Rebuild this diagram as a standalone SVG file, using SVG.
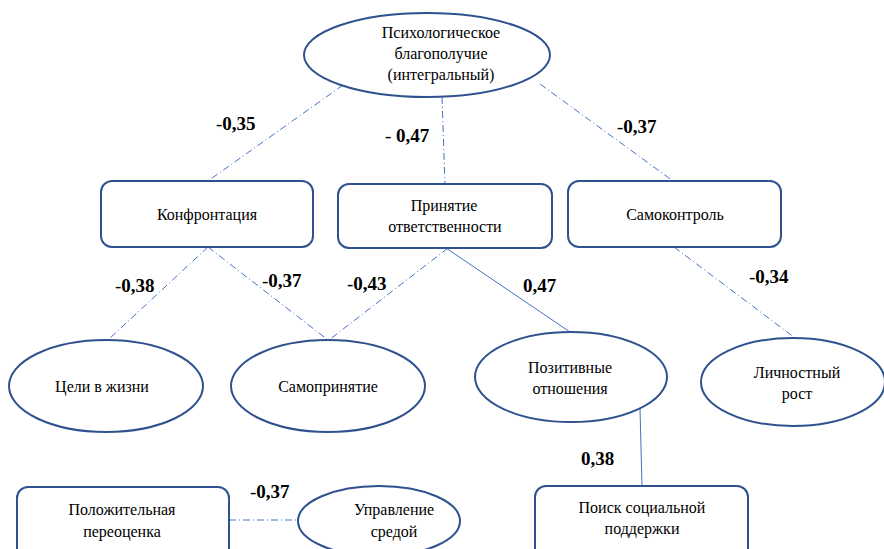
<svg xmlns="http://www.w3.org/2000/svg" width="884" height="549" viewBox="0 0 884 549">
<style>
.n{fill:#fff;stroke:#2F528F;stroke-width:2}
.c{stroke:#4472C4;stroke-width:1;fill:none}
.d{stroke-dasharray:7 3 1 3}
.t{font-size:16px;fill:#000;text-anchor:middle}
.l{font-size:19px;font-weight:bold;fill:#000}
.h{font-weight:normal}
</style>
<rect width="884" height="549" fill="#fff"/>
<g id="connectors">
<line class="c d" x1="343" y1="85" x2="208" y2="181"/>
<line class="c d" x1="442" y1="97" x2="445" y2="184"/>
<line class="c d" x1="540" y1="84" x2="673" y2="181"/>
<line class="c d" x1="208" y1="247" x2="108" y2="340"/>
<line class="c d" x1="208" y1="247" x2="328" y2="340"/>
<line class="c d" x1="448" y1="248" x2="329" y2="340"/>
<line class="c" x1="446" y1="248" x2="570" y2="332"/>
<line class="c d" x1="674" y1="247" x2="795" y2="338"/>
<line class="c" x1="640" y1="409" x2="642" y2="486"/>
<line class="c d" x1="229" y1="520" x2="298" y2="520"/>
</g>
<g font-family="Liberation Serif, DejaVu Serif, serif">
<g id="labels">
<text class="l" x="216" y="130"><tspan class="h">-</tspan>0,35</text>
<text class="l" x="385" y="142"><tspan class="h">- </tspan>0,47</text>
<text class="l" x="617" y="133"><tspan class="h">-</tspan>0,37</text>
<text class="l" x="115" y="292"><tspan class="h">-</tspan>0,38</text>
<text class="l" x="262" y="287"><tspan class="h">-</tspan>0,37</text>
<text class="l" x="347" y="290"><tspan class="h">-</tspan>0,43</text>
<text class="l" x="523" y="292">0,47</text>
<text class="l" x="749" y="283"><tspan class="h">-</tspan>0,34</text>
<text class="l" x="581" y="465">0,38</text>
<text class="l" x="250" y="498"><tspan class="h">-</tspan>0,37</text>
</g>
<g id="psych">
<ellipse class="n" cx="427" cy="55" rx="123" ry="42"/>
<text class="t" x="441" y="38">Психологическое</text>
<text class="t" x="441" y="59">благополучие</text>
<text class="t" x="441" y="80">(интегральный)</text>
</g>
<g id="konfr">
<rect class="n" x="101" y="181" width="212" height="66" rx="11"/>
<text class="t" x="207" y="220">Конфронтация</text>
</g>
<g id="prin">
<rect class="n" x="338" y="184" width="214" height="64" rx="11"/>
<text class="t" x="444" y="211">Принятие</text>
<text class="t" x="445" y="232">ответственности</text>
</g>
<g id="samokontrol">
<rect class="n" x="568" y="181" width="213" height="66" rx="11"/>
<text class="t" x="675" y="220">Самоконтроль</text>
</g>
<g id="celi">
<ellipse class="n" cx="106" cy="386" rx="97" ry="46"/>
<text class="t" x="102" y="392">Цели в жизни</text>
</g>
<g id="samoprin">
<ellipse class="n" cx="328" cy="386" rx="97" ry="46"/>
<text class="t" x="328" y="392">Самопринятие</text>
</g>
<g id="pozit">
<ellipse class="n" cx="571" cy="377" rx="96" ry="45"/>
<text class="t" x="570" y="373">Позитивные</text>
<text class="t" x="570" y="394">отношения</text>
</g>
<g id="lichn">
<ellipse class="n" cx="793" cy="382" rx="92" ry="44"/>
<text class="t" x="797" y="378">Личностный</text>
<text class="t" x="797" y="399">рост</text>
</g>
<g id="poisk">
<rect class="n" x="535" y="486" width="213" height="75" rx="11"/>
<text class="t" x="642" y="513">Поиск социальной</text>
<text class="t" x="642" y="534">поддержки</text>
</g>
<g id="polozh">
<rect class="n" x="17" y="487" width="212" height="75" rx="11"/>
<text class="t" x="122" y="515">Положительная</text>
<text class="t" x="122" y="537">переоценка</text>
</g>
<g id="uprav">
<ellipse class="n" cx="379" cy="521" rx="81" ry="35"/>
<text class="t" x="394" y="515">Управление</text>
<text class="t" x="394" y="537">средой</text>
</g>
</g>
</svg>
